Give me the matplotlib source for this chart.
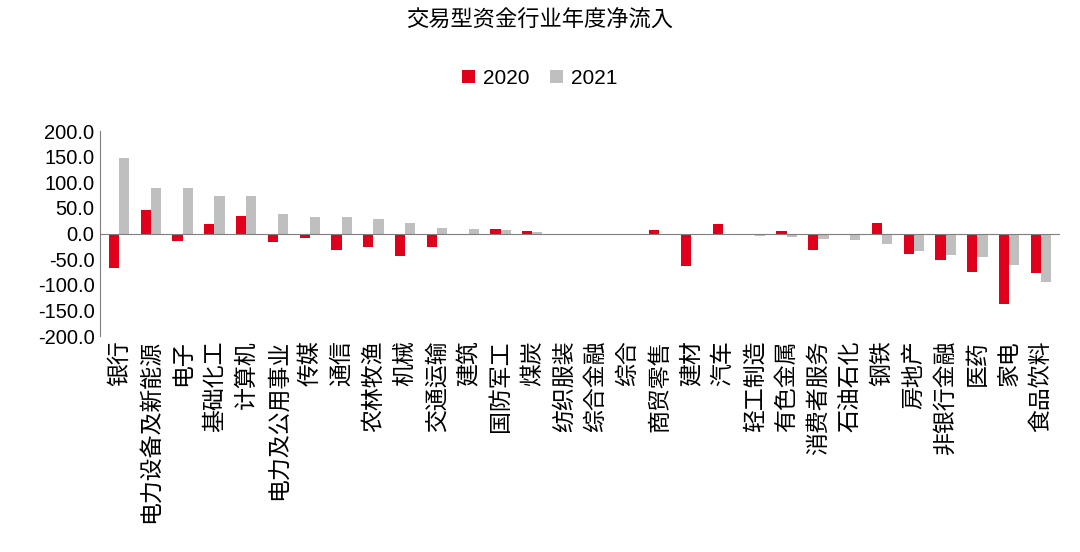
import matplotlib
matplotlib.use("Agg")
import matplotlib.pyplot as plt
from matplotlib import font_manager as fm
import numpy as np

cjk = [f for f in fm.findSystemFonts() if 'CJK' in f or 'cjk' in f.lower()]
fam = 'Noto Sans CJK SC'
if cjk:
    cjk.sort(key=lambda p: ('SC' not in p, p))
    for p in cjk:
        try:
            fm.fontManager.addfont(p)
        except Exception:
            pass
    names = [fm.FontProperties(fname=p).get_name() for p in cjk]
    fam = next((n for n in names if 'SC' in n), names[0])
plt.rcParams['font.family'] = [fam, 'DejaVu Sans']
plt.rcParams['axes.unicode_minus'] = False

categories = ["银行","电力设备及新能源","电子","基础化工","计算机","电力及公用事业","传媒","通信","农林牧渔","机械",
              "交通运输","建筑","国防军工","煤炭","纺织服装","综合金融","综合","商贸零售","建材","汽车",
              "轻工制造","有色金属","消费者服务","石油石化","钢铁","房地产","非银行金融","医药","家电","食品饮料"]
v2020 = [-68,45,-14,18,35,-17,-8,-32,-27,-43,-27,-3,8,4,-1,0,-1,7,-63,18,0,5,-33,-1,20,-40,-52,-75,-137,-78]
v2021 = [147,88,88,73,73,38,33,33,28,20,10,8,7,2,-1,0,-1,-3,-3,-2,-5,-7,-10,-13,-20,-35,-42,-45,-62,-95]
yticks = [200,150,100,50,0,-50,-100,-150,-200]

fig = plt.figure(figsize=(10.8,5.52), dpi=100)
ax = fig.add_axes([100/1080, 1-336/552, 960/1080, 205/552])
x = np.arange(len(categories))
w = 0.32
ax.bar(x-w/2, v2020, w, color='#E0001B', label='2020')
ax.bar(x+w/2, v2021, w, color='#BFBFBF', label='2021')
ax.set_ylim(-200,200)
ax.set_xlim(-0.6, len(categories)-0.4)
ax.set_yticks(yticks)
ax.set_yticklabels([f"{t:.1f}" for t in yticks], fontsize=14.5, fontfamily='Liberation Sans')
ax.axhline(0, color='#7f7f7f', lw=0.8)
for s in ['top','right','bottom']:
    ax.spines[s].set_visible(False)
ax.spines['left'].set_color('#7f7f7f')
ax.tick_params(axis='y', length=0, pad=4)
ax.tick_params(axis='x', length=0, pad=3)
ax.set_xticks(x)
ax.set_xticklabels(categories, rotation=90, fontsize=16.5, va='top')
fig.text(0.5, 1-20/552, "交易型资金行业年度净流入", ha='center', va='center', fontsize=16)
fig.legend(loc='center', bbox_to_anchor=(0.5, 1-78/552), ncol=2, frameon=False,
           handlelength=0.6, handleheight=0.6, columnspacing=1.0, handletextpad=0.4,
           prop={'family': 'Liberation Sans', 'size': 15})
fig.savefig("out.png", dpi=100)
